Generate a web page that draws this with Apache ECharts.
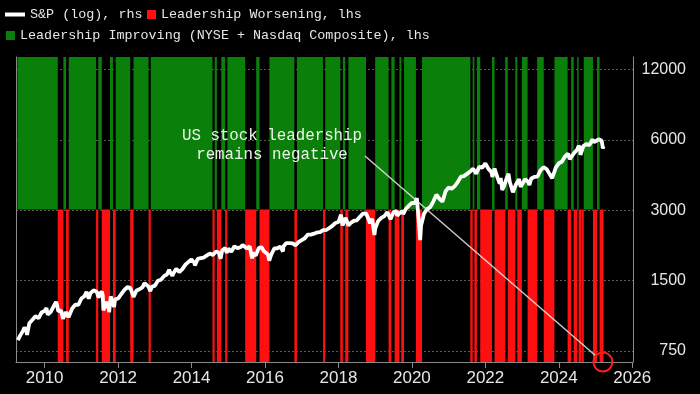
<!DOCTYPE html>
<html><head><meta charset="utf-8">
<script src="https://cdn.jsdelivr.net/npm/echarts@6/dist/echarts.min.js"></script>
<style>html,body{margin:0;padding:0;background:#000;}#c{width:700px;height:394px;}</style>
</head><body><div id="c"></div>
<script>
// Leadership worsening periods (decimal years, start-end)
const worsening = [
 [2010.357,2010.51],[2010.583,2010.657],[2011.40,2011.46],[2011.556,2011.78],[2011.86,2011.935],
 [2012.33,2012.42],[2012.83,2012.89],[2014.57,2014.63],[2014.69,2014.81],[2014.915,2014.975],
 [2015.46,2015.76],[2015.85,2016.12],[2016.80,2016.87],[2017.58,2017.64],[2018.05,2018.12],
 [2018.185,2018.27],[2018.75,2019.00],[2019.365,2019.44],[2019.53,2019.66],[2019.71,2019.785],
 [2020.11,2020.275],[2021.59,2021.655],[2021.70,2021.77],[2021.86,2022.18],[2022.25,2022.54],
 [2022.61,2022.815],[2022.87,2022.995],[2023.15,2023.41],[2023.59,2023.88],[2024.24,2024.335],
 [2024.405,2024.50],[2024.54,2024.61],[2024.62,2024.68],[2024.93,2025.04],[2025.11,2025.22]
];
// Leadership improving periods
const improving = [
 [2009.26,2010.357],[2010.51,2010.583],[2010.657,2011.40],[2011.46,2011.556],[2011.78,2011.86],
 [2011.935,2012.33],[2012.42,2012.83],[2012.89,2014.57],[2014.63,2014.69],[2014.81,2014.915],
 [2014.975,2015.46],[2015.76,2015.85],[2016.12,2016.80],[2016.87,2017.58],[2017.64,2018.05],
 [2018.12,2018.185],[2018.27,2018.75],[2019.00,2019.365],[2019.44,2019.53],[2019.66,2019.71],
 [2019.785,2020.11],[2020.275,2021.59],[2021.655,2021.70],[2021.77,2021.86],[2022.18,2022.25],
 [2022.54,2022.61],[2022.815,2022.87],[2022.995,2023.15],[2023.41,2023.59],[2023.88,2024.24],
 [2024.335,2024.405],[2024.50,2024.54],[2024.68,2024.93],[2025.04,2025.11]
];
// S&P 500 (decimal year, level)
const spx = [
 [2009.27,835],[2009.333,873],[2009.417,919],[2009.45,946],[2009.5,919],[2009.52,879],[2009.583,987],[2009.667,1021],[2009.75,1057],[2009.833,1036],[2009.917,1096],[2010.0,1115],
 [2010.05,1146],[2010.083,1074],[2010.105,1056],[2010.167,1104],[2010.25,1169],[2010.31,1217],[2010.333,1187],[2010.37,1110],[2010.417,1089],[2010.45,1116],[2010.5,1031],[2010.505,1022],[2010.583,1102],[2010.62,1122],[2010.65,1047],[2010.667,1049],[2010.75,1141],[2010.833,1183],[2010.917,1181],[2011.0,1258],
 [2011.083,1286],[2011.14,1343],[2011.2,1256],[2011.25,1326],[2011.333,1364],[2011.417,1345],[2011.47,1268],[2011.5,1321],[2011.56,1345],[2011.583,1292],[2011.6,1119],[2011.667,1219],[2011.75,1131],[2011.755,1099],[2011.8,1285],[2011.89,1158],[2011.917,1247],[2012.0,1258],
 [2012.083,1312],[2012.167,1366],[2012.25,1408],[2012.333,1398],[2012.42,1278],[2012.5,1362],[2012.583,1379],[2012.667,1407],[2012.72,1465],[2012.75,1441],[2012.833,1412],[2012.875,1353],[2012.917,1416],[2013.0,1426],
 [2013.083,1498],[2013.167,1515],[2013.25,1569],[2013.333,1598],[2013.39,1669],[2013.417,1631],[2013.48,1573],[2013.5,1606],[2013.583,1686],[2013.667,1633],[2013.75,1682],[2013.833,1757],[2013.917,1806],[2014.0,1848],
 [2014.083,1783],[2014.09,1741],[2014.167,1859],[2014.25,1872],[2014.333,1884],[2014.417,1924],[2014.5,1960],[2014.583,1931],[2014.667,2003],[2014.75,1972],[2014.79,1862],[2014.833,2018],[2014.917,2068],[2014.96,1972],[2015.0,2059],
 [2015.083,1995],[2015.167,2105],[2015.25,2068],[2015.333,2086],[2015.39,2131],[2015.417,2107],[2015.5,2063],[2015.583,2104],[2015.65,1867],[2015.667,1972],[2015.75,1920],[2015.833,2079],[2015.917,2080],[2015.96,2012],[2016.0,2044],
 [2016.083,1940],[2016.115,1829],[2016.167,1932],[2016.25,2060],[2016.333,2065],[2016.417,2097],[2016.49,2001],[2016.5,2099],[2016.583,2174],[2016.667,2171],[2016.75,2168],[2016.833,2126],[2016.85,2085],[2016.917,2199],[2017.0,2239],
 [2017.083,2279],[2017.167,2364],[2017.25,2363],[2017.333,2384],[2017.417,2412],[2017.5,2423],[2017.583,2470],[2017.63,2426],[2017.667,2472],[2017.75,2519],[2017.833,2575],[2017.917,2648],[2018.0,2674],
 [2018.07,2873],[2018.083,2824],[2018.11,2581],[2018.167,2714],[2018.19,2787],[2018.25,2641],[2018.27,2582],[2018.333,2648],[2018.417,2705],[2018.5,2718],[2018.583,2816],[2018.667,2902],[2018.72,2931],[2018.75,2914],[2018.833,2712],[2018.86,2641],[2018.917,2760],[2018.98,2351],[2019.0,2507],
 [2019.083,2704],[2019.167,2784],[2019.25,2834],[2019.333,2946],[2019.417,2752],[2019.42,2744],[2019.5,2942],[2019.583,2980],[2019.6,2847],[2019.667,2926],[2019.75,2977],[2019.76,2887],[2019.833,3038],[2019.917,3141],[2020.0,3231],
 [2020.083,3226],[2020.135,3386],[2020.167,2954],[2020.225,2237],[2020.25,2585],[2020.333,2912],[2020.417,3044],[2020.5,3100],[2020.583,3271],[2020.667,3500],[2020.75,3363],[2020.833,3270],[2020.917,3622],[2021.0,3756],
 [2021.083,3714],[2021.167,3811],[2021.25,3973],[2021.333,4181],[2021.417,4204],[2021.5,4298],[2021.583,4395],[2021.667,4523],[2021.75,4308],[2021.833,4605],[2021.917,4567],[2022.0,4766],
 [2022.005,4797],[2022.083,4516],[2022.167,4374],[2022.19,4171],[2022.25,4530],[2022.333,4132],[2022.39,3901],[2022.417,4132],[2022.46,3667],[2022.5,3785],[2022.583,4130],[2022.63,4305],[2022.667,3955],[2022.75,3586],[2022.78,3577],[2022.833,3872],[2022.917,4080],[2022.96,3783],[2023.0,3840],
 [2023.083,4077],[2023.167,3970],[2023.2,3855],[2023.25,4109],[2023.333,4169],[2023.417,4180],[2023.5,4450],[2023.583,4589],[2023.667,4508],[2023.75,4288],[2023.82,4117],[2023.833,4194],[2023.917,4568],[2024.0,4770],
 [2024.083,4846],[2024.167,5096],[2024.25,5254],[2024.3,4967],[2024.333,5036],[2024.417,5278],[2024.5,5460],[2024.54,5667],[2024.583,5522],[2024.59,5186],[2024.667,5648],[2024.75,5762],[2024.833,5705],[2024.917,6032],[2024.96,5872],[2025.0,5882],
 [2025.083,6041],[2025.135,6144],[2025.167,5955],[2025.2,5521],[2025.215,5639]
];
const yearTicks = [2010,2012,2014,2016,2018,2020,2022,2024,2026];
const spxTicks = [750,1500,3000,6000,12000];

const RED = '#fe1010', GREEN = '#0a7f0a';
const chart = echarts.init(document.getElementById('c'));

function bandRender(sign, color) {
  return function (params, api) {
    const a = api.coord([api.value(0), sign]);
    const b = api.coord([api.value(1), 0]);
    const x = Math.min(a[0], b[0]), y = Math.min(a[1], b[1]);
    return { type: 'rect', shape: { x: x, y: y, width: Math.max(1, Math.abs(b[0] - a[0])), height: Math.abs(b[1] - a[1]) },
      style: { fill: color } };
  };
}
const mono = 'Liberation Mono';
const legendBase = { padding: 0, itemGap: 0, textStyle: { color: '#e6e6e6', fontFamily: mono, fontSize: 13.4 }, selectedMode: false };

chart.setOption({
  backgroundColor: '#000',
  animation: false,
  grid: { left: 16, right: 67, top: 57, bottom: 32 },
  legend: [
    Object.assign({}, legendBase, { left: 5, top: 8, itemWidth: 20, itemHeight: 4, data: [{ name: 'S&P (log), rhs', icon: 'rect' }] }),
    Object.assign({}, legendBase, { left: 147, top: 8, itemWidth: 9, itemHeight: 9, data: [{ name: 'Leadership Worsening, lhs', icon: 'rect' }] }),
    Object.assign({}, legendBase, { left: 6, top: 29, itemWidth: 9, itemHeight: 9, data: [{ name: 'Leadership Improving (NYSE + Nasdaq Composite), lhs', icon: 'rect' }] })
  ],
  xAxis: {
    type: 'value', min: 2009.22, max: 2026.02,
    axisLine: { show: true, onZero: false, lineStyle: { color: '#8a8a8a', width: 1 } },
    axisTick: { show: true, customValues: yearTicks, length: 6, lineStyle: { color: '#8a8a8a' } },
    axisLabel: { customValues: yearTicks, formatter: v => String(v), color: '#e6e6e6', fontFamily: 'Liberation Sans', fontSize: 17, margin: 8 },
    splitLine: { show: false }
  },
  yAxis: [
    { type: 'value', min: -1, max: 1, position: 'left',
      axisLine: { show: true, onZero: false, lineStyle: { color: '#8a8a8a' } }, axisTick: { show: false }, axisLabel: { show: false }, splitLine: { show: false } },
    { type: 'log', logBase: 2, min: 673, max: 13600, position: 'right',
      axisLine: { show: true, onZero: false, lineStyle: { color: '#8a8a8a' } },
      axisTick: { show: false, customValues: spxTicks },
      axisLabel: { customValues: spxTicks, formatter: v => String(Math.round(v)), color: '#e6e6e6', fontFamily: 'Liberation Sans', fontSize: 16, align: 'right', margin: 53 },
      splitLine: { show: true, lineStyle: { color: '#5a5a5a', type: [2, 2], width: 1 } } }
  ],
  series: [
    { name: 'Leadership Improving (NYSE + Nasdaq Composite), lhs', type: 'custom', yAxisIndex: 0, data: improving,
      encode: { x: [0, 1] }, renderItem: bandRender(1, GREEN), itemStyle: { color: GREEN }, z: 1, silent: true },
    { name: 'Leadership Worsening, lhs', type: 'custom', yAxisIndex: 0, data: worsening,
      encode: { x: [0, 1] }, renderItem: bandRender(-1, RED), itemStyle: { color: RED }, z: 1, silent: true },
    { name: 'S&P (log), rhs', type: 'line', yAxisIndex: 1, data: spx, showSymbol: false, symbol: 'none',
      lineStyle: { color: '#ffffff', width: 3.8 }, itemStyle: { color: '#ffffff' }, z: 5, silent: true }
  ]
});

// Annotation: text, pointer line and circle at the latest reading
const lastX = worsening[worsening.length - 1][1] - 0.02;
const c = chart.convertToPixel({ xAxisIndex: 0, yAxisIndex: 0 }, [lastX, -1]);
const r = 9.5;
const s = [365, 156];
const dx = c[0] - s[0], dy = c[1] - s[1], L = Math.sqrt(dx * dx + dy * dy);
const e = [c[0] - dx / L * r, c[1] - dy / L * r];
chart.setOption({
  graphic: [
    { type: 'text', x: 272, y: 145, z: 20,
      style: { text: 'US stock leadership\nremains negative', fill: '#eef5ea', font: '15.8px "Liberation Mono"', align: 'center', verticalAlign: 'middle', lineHeight: 19 } },
    { type: 'line', z: 20, shape: { x1: s[0], y1: s[1], x2: e[0], y2: e[1] }, style: { stroke: 'rgba(235,235,235,0.85)', lineWidth: 1.5 } },
    { type: 'circle', z: 20, shape: { cx: c[0], cy: c[1], r: r }, style: { fill: 'none', stroke: '#ff1a1a', lineWidth: 2 } }
  ]
});
</script></body></html>
